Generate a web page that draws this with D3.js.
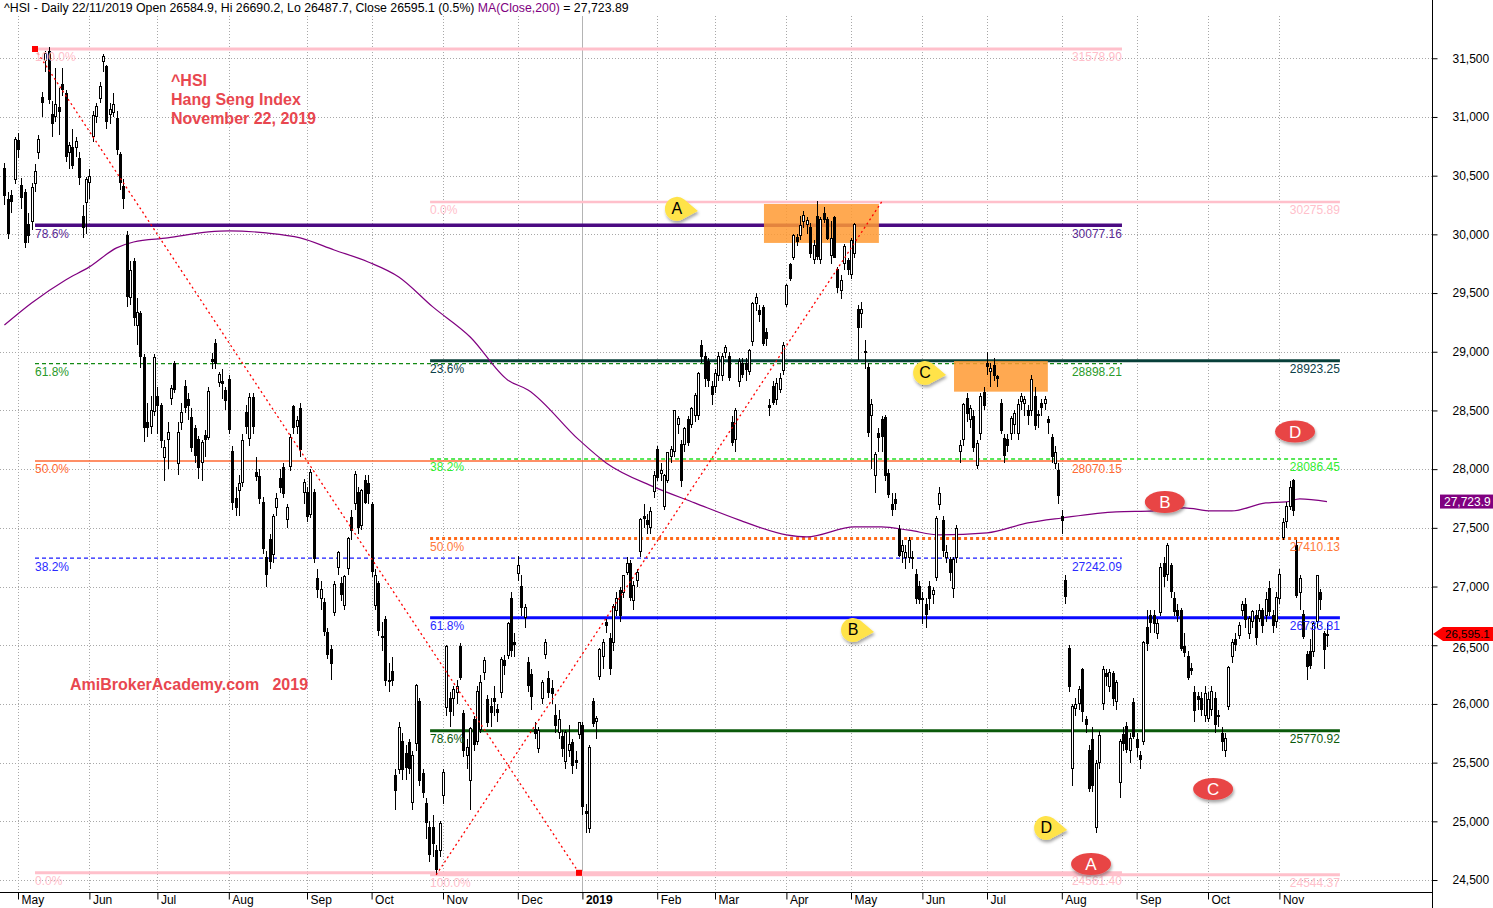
<!DOCTYPE html>
<html><head><meta charset="utf-8">
<script src="https://cdn.jsdelivr.net/npm/d3@7"></script>
<style>
html,body{margin:0;padding:0;background:#fff;}
svg{display:block;font-family:"Liberation Sans",Arial,sans-serif;}
</style></head><body>
<svg id="c" width="1493" height="908"></svg>
<script>
// ---------------- DATA ----------------
const monthLabels = ["Apr","May","Jun","Jul","Aug","Sep","Oct","Nov","Dec","2019","Feb","Mar","Apr","May","Jun","Jul","Aug","Sep","Oct","Nov"];
const monthBars   = [4,21,20,21,23,19,21,22,19,22,17,21,19,21,19,22,22,21,21,15];
const priceTicks  = [24500,25000,25500,26000,26500,27000,27500,28000,28500,29000,29500,30000,30500,31000,31500];

// daily candles [open, high, low, close], 25 Apr 2018 .. 22 Nov 2019
const ohlc = [
[30560,30610,30250,30328],[30300,30360,29960,30007],[30330,30380,30180,30281],[30470,30830,30430,30808],
[30800,30860,30650,30723],[30420,30480,30220,30313],[30360,30390,29880,29927],[30080,30180,29930,29994],[30110,30440,30040,30402],
[30430,30600,30360,30536],[30700,30850,30640,30809],[31170,31210,31000,31122],[31480,31560,31380,31541],[31560,31593,31110,31152],
[31020,31140,30830,30943],[31000,31420,30960,31110],[31080,31250,30850,31048],[31280,31420,31180,31234],[31200,31230,30620,30665],
[30700,30790,30560,30760],[30740,30900,30560,30588],[30740,30830,30660,30793],[30650,30700,30420,30484],[30150,30250,29970,30056],
[30270,30490,30000,30469],
[30440,30560,30300,30492],[30830,31050,30790,31010],[31000,31120,30950,31093],[31160,31300,31120,31259],[31470,31540,31380,31512],
[31430,31440,30900,30958],[31020,31120,30940,31063],[31040,31200,31000,31103],[30990,31050,30680,30725],[30680,30700,30380,30440],
[30410,30470,30220,30309],[29990,30030,29380,29468],[29460,29770,29400,29696],[29770,29800,29220,29296],[29220,29460,29060,29338],
[29330,29350,28860,28961],[28950,28980,28230,28356],[28400,28560,28270,28357],[28360,28620,28300,28497],[28490,28980,28450,28955],
[28620,28700,28300,28545],[28540,28560,28180,28241],[28100,28250,27900,28182],[28250,28400,28000,28316],[28600,28720,28550,28688],
[28900,28920,28650,28682],[28050,28400,27950,28311],[28400,28560,28330,28481],[28700,28760,28480,28525],[28590,28650,28420,28539],
[28440,28520,28150,28181],[28350,28380,28050,28118],[28250,28280,27920,28010],[28060,28250,27900,28224],[28290,28330,28100,28256],
[28270,28700,28250,28662],[28930,28990,28850,28920],[29070,29110,28850,28900],[28740,28830,28700,28804],[28750,28850,28600,28733],
[28670,28700,28500,28583],
[28760,28800,28300,28340],[28150,28200,27650,27714],[27750,27850,27600,27677],[27820,27950,27600,27880],[27890,28300,27850,28248],
[28480,28550,28300,28360],[28260,28650,28200,28607],[28610,28650,28300,28367],[27970,28100,27900,27937],[27940,28000,27700,27752],
[27720,27760,27280,27323],[27250,27300,27000,27100],[27400,27450,27150,27213],[27270,27620,27200,27599],[27670,27800,27600,27752],
[27920,28000,27800,27840],[28010,28050,27750,27790],[27570,27700,27500,27672],[28020,28300,27980,28271],[28530,28550,28300,28351],
[28360,28450,28300,28416],[28520,28560,28100,28165],[27800,27920,27700,27889],
[27800,27850,27550,27600],[27610,28000,27580,27973],[27800,27830,27200,27243],[27070,27150,26900,26974],[26900,27050,26800,26973],
[26860,26900,26580,26613],[26610,26650,26380,26422],[26460,26500,26200,26345],[26780,27050,26750,27014],[27160,27300,27100,27286],
[27030,27080,26880,26932],[26840,27100,26800,27084],[27150,27420,27100,27407],[27590,27650,27400,27477],[27710,27980,27650,27953],
[27800,27850,27450,27500],[27520,27830,27480,27816],[27900,27950,27700,27715],[27880,27950,27700,27789],
[27700,27720,27080,27126],[26840,27150,26800,27091],[27030,27050,26580,26623],[26570,26700,26450,26572],[26720,26750,26150,26202],
[26200,26350,26100,26193],[26280,26400,26150,26200],[25390,25450,25100,25266],[25440,25850,25400,25801],[25680,25750,25350,25445],
[25580,25650,25350,25462],[25670,25700,25400,25454],[25160,25600,25100,25561],[25660,26170,25600,26153],[26020,26050,25300,25346],
[25410,25450,25200,25249],[25150,25200,24850,24994],[24950,25000,24650,24718],[24950,25050,24700,24812],[24750,24800,24540,24586],
[24750,25000,24700,24980],
[25220,25450,25150,25416],[25970,26500,25900,26486],[26050,26100,25800,25935],[26050,26150,25900,26120],[26100,26200,26000,26147],
[26490,26520,26200,26227],[25920,25950,25550,25601],[25560,25700,25450,25633],[25350,25800,25100,25792],[25870,25900,25600,25655],
[25680,26150,25650,26103],[25780,26250,25750,26184],[26270,26400,26200,26373],[26040,26080,25800,25843],[25980,26050,25800,25928],
[26050,26150,25900,26019],[25950,26000,25850,25928],[26100,26400,26050,26376],[26370,26420,26250,26331],[26410,26700,26380,26682],
[26900,26950,26400,26451],[26520,26600,26400,26506],
[27110,27260,27050,27182],[27000,27100,26750,26819],[26740,26850,26650,26820],[26350,26400,26100,26156],[26250,26300,25950,26063],
[25780,25850,25700,25752],[25620,25800,25580,25771],[26050,26200,26000,26186],[26420,26550,26380,26524],[26220,26280,26050,26094],
[26130,26200,26000,26087],[25900,26000,25750,25814],[25760,25950,25700,25865],[25720,25780,25550,25623],[25510,25780,25450,25753],
[25600,25820,25550,25651],[25670,25700,25400,25478],[25520,25600,25450,25504],[25740,25850,25700,25845],
[25820,25850,25050,25130],[25080,25150,24900,25064],[24940,25650,24900,25626],[26020,26050,25800,25835],[25850,25900,25700,25875],
[26230,26480,26200,26462],[26400,26550,26300,26521],[26690,26720,26600,26667],[26560,26600,26250,26298],[26520,26850,26450,26830],
[26800,26950,26750,26902],[26970,27000,26700,26755],[26950,27100,26900,27090],[27120,27250,27100,27196],[27200,27230,26880,26910],
[26880,27050,26800,27008],[27050,27150,27000,27120],[27300,27580,27250,27569],[27600,27700,27500,27576],[27560,27620,27450,27531],
[27500,27680,27450,27642],[27810,27980,27750,27942],
[28170,28200,27900,27930],[27960,28050,27900,27990],[27680,27960,27650,27946],[27900,28150,27880,28143],[28110,28200,28050,28171],
[28150,28500,28100,28497],[28380,28450,28300,28432],[28210,28250,27850,27901],[28210,28360,28150,28347],[28420,28450,28200,28228],
[28380,28530,28350,28514],[28460,28650,28400,28629],[28460,28830,28420,28816],[29050,29100,28900,28959],[28960,29000,28700,28772],
[28920,28950,28700,28757],[28700,28750,28550,28633],
[28700,28850,28650,28812],[28800,29000,28750,28959],[28800,28990,28750,28961],[28990,29060,28950,29037],[28960,29000,28750,28779],
[28400,28450,28200,28228],[28250,28520,28150,28503],[28750,28950,28700,28920],[28900,28950,28780,28807],[28900,28950,28750,28851],
[28830,29020,28800,29012],[29090,29420,29050,29409],[29410,29500,29350,29466],[29350,29400,29250,29321],[29380,29400,29050,29071],
[29160,29200,29050,29113],[28540,28600,28450,28523],[28700,28750,28550,28567],[28590,28780,28550,28729],[28680,28820,28650,28775],
[28840,29080,28800,29051],
[29400,29580,29380,29562],[29740,29760,29600,29625],[29800,30000,29780,29987],[29970,30000,29900,29936],[29990,30160,29950,30077],
[30110,30200,30050,30157],[30080,30150,30000,30119],[30060,30100,29800,29839],[29790,29950,29750,29909],[30150,30280,29780,29812],
[29790,30150,29750,30129],[30180,30230,30100,30124],[30130,30150,29950,29963],[29820,30110,29750,29963],[30140,30160,29800,29805],
[29700,29720,29500,29549],[29520,29650,29450,29605],[29750,29920,29700,29893],[29780,29800,29650,29699],
[29660,29970,29620,29944],[29840,30100,29800,30081],[29360,29400,28930,29210],[29330,29420,29200,29363],[29000,29100,28850,29003],
[28870,28900,28270,28311],[28460,28600,28000,28550],[27950,28150,27800,28122],[28300,28350,28150,28268],[28420,28450,28150,28275],
[28440,28460,27900,27946],[27960,28000,27750,27787],[27700,27800,27600,27657],[27740,27800,27650,27705],[27490,27520,27250,27267],
[27300,27400,27200,27353],[27250,27350,27150,27288],[27250,27420,27200,27390],[27250,27300,27150,27235],[27100,27150,26850,26901],
[27000,27050,26850,26893],
[26900,26950,26680,26894],[26850,26900,26650,26762],[27000,27050,26800,26895],[26930,27000,26850,26965],[27080,27600,27050,27578],
[27700,27850,27650,27789],[27560,27600,27250,27308],[27250,27350,27200,27294],[27230,27250,27050,27118],[26980,27250,26900,27227],
[27250,27520,27200,27498],[28150,28250,28050,28202],[28250,28560,28200,28550],[28600,28650,28400,28473],[28420,28550,28350,28513],
[28450,28500,28150,28185],[28030,28250,28000,28221],[28300,28650,28250,28621],[28650,28700,28500,28543],
[28900,29000,28800,28875],[28830,28900,28700,28855],[28880,28950,28750,28796],[28790,28800,28700,28775],[28560,28600,28300,28331],
[28260,28300,28050,28116],[28250,28300,28150,28204],[28300,28450,28250,28431],[28380,28500,28300,28472],[28300,28600,28250,28554],
[28580,28650,28500,28619],[28560,28620,28450,28593],[28500,28550,28380,28461],[28500,28800,28450,28765],[28620,28700,28330,28371],
[28460,28500,28350,28467],[28560,28600,28450,28524],[28560,28620,28500,28594],[28420,28450,28300,28397],[28270,28300,28050,28107],
[28050,28200,28000,28146],[27990,28050,27700,27778],
[27600,27650,27450,27565],[27050,27100,26850,26919],[26470,26500,26100,26151],[25450,26000,25300,25976],[25960,26050,25900,25997],
[26000,26150,25950,26120],[26290,26310,25850,25939],[25870,25900,25750,25825],[25600,25650,25250,25281],[25700,25800,25250,25302],
[24950,25520,24899,25495],[25500,25770,25450,25734],[26000,26320,25950,26291],[26260,26300,26150,26231],[26150,26300,26100,26270],
[26260,26280,25980,26048],[26020,26200,25950,26179],[25330,25700,25200,25680],[25740,25800,25600,25664],[25810,25850,25580,25615],
[25600,25750,25500,25703],[26010,26050,25700,25725],
[25700,25750,25550,25627],[25560,25600,25450,25527],[25680,26540,25650,26523],[26650,26800,26450,26515],[26750,26800,26600,26691],
[26750,26800,26600,26681],[26600,26720,26550,26683],[26780,27200,26750,27159],[27200,27250,27000,27087],[27100,27370,27050,27353],
[27180,27200,26900,26954],[26900,26950,26750,26790],[26800,26850,26700,26754],[26800,26820,26450,26468],[26490,26600,26400,26435],
[26400,26450,26200,26222],[26300,26350,26250,26281],[26100,26150,25850,25945],[26060,26100,25950,26041],[26050,26100,25900,25955],
[25900,26150,25850,26092],
[25880,26100,25850,26042],[25950,26150,25900,26110],[26050,26100,25750,25821],[25900,25950,25800,25893],[25750,25800,25600,25682],
[25600,25750,25550,25707],[25980,26320,25950,26308],[26400,26550,26350,26521],[26550,26600,26450,26503],[26580,26700,26550,26664],
[26800,26880,26750,26848],[26850,26900,26650,26719],[26600,26750,26550,26725],[26700,26800,26650,26786],[26750,26800,26500,26566],
[26730,26850,26700,26797],[26800,26820,26600,26667],[26750,26950,26700,26891],[26980,27050,26750,26786],[26750,26800,26600,26667],
[26700,26950,26650,26906],
[26900,27150,26850,27100],[27420,27580,27400,27547],[27550,27720,27500,27683],[27680,27900,27650,27847],[27900,27920,27600,27651],
[27350,27400,26900,26926],[26950,27100,26800,27065],[26760,26800,26550,26571],[26420,26450,26200,26323],[26450,26550,26300,26327],
[26450,26700,26400,26681],[26700,27100,26650,27093],[26950,26980,26800,26889],[26600,26620,26300,26466],[26584.9,26690.2,26487.7,26595.1]
];

// 200-day moving average, read at sampled bars [bar, value]
const ma200 = [[0,29228],[8,29416],[18,29612],[25,29723],[33,29885],[38,29935],[48,29970],[60,30021],[66,30030],[77,30012],
[87,29970],[97,29867],[107,29765],[116,29637],[126,29382],[137,29126],[148,28760],[154,28675],[169,28249],[177,28053],
[191,27849],[203,27713],[216,27568],[230,27440],[236,27423],[250,27508],[258,27508],[266,27480],[275,27440],[289,27457],
[301,27542],[311,27584],[327,27636],[338,27644],[347,27670],[355,27644],[361,27644],[371,27712],[377,27721],[381,27746],[389,27724]];

// Fibonacci retracements
const fib1Labels = ["100.0%","78.6%","61.8%","50.0%","38.2%","0.0%"];
const fib1Values = [31578.90,30077.16,28898.21,28070.15,27242.09,24561.40];
const fib1Span   = [9, 328.7];
const fib2Labels = ["0.0%","23.6%","38.2%","50.0%","61.8%","78.6%","100.0%"];
const fib2Values = [30275.89,28923.25,28086.45,27410.13,26733.81,25770.92,24544.37];
const fib2Span   = [125.2, 392.8];
const trend1 = [[9,31578.90],[169,24561.40]];
const trend2 = [[127,24544.37],[258,30275.89]];

// highlighted zones [bar0, bar1, valueTop, valueBottom]
const zones = [[223.4,257.2,30259,29927],[279.3,306.9,28921,28660]];
// yellow tags [letter, bar, value] and red tags
const yellowTags = [["A",197.8,30217],["C",270.8,28820],["B",249.6,26630],["D",306.4,24944]];
const redTags    = [["D",379.6,28320],["B",341.3,27720],["C",355.5,25275],["A",319.6,24637]];

const lastClose = 26595.1, lastMA = 27723.89;

// ---------------- DRAW ----------------
(function(){
const svg = d3.select("#c");
const W = 1493, H = 908, axisX = 1432, axisY = 892, plotTop = 16;
const x = d3.scaleLinear().domain([0, 389]).range([4.4, 4.4 + 389*3.4]);
const y = d3.scaleLinear().domain([24398, 31860]).range([892, 16]);
const font = '"Liberation Sans", Arial, sans-serif';

const defs = svg.append("defs");
const f = defs.append("filter").attr("id","sh").attr("x","-30%").attr("y","-30%").attr("width","160%").attr("height","170%");
f.append("feDropShadow").attr("dx",1).attr("dy",2.5).attr("stdDeviation",1.6).attr("flood-color","#000").attr("flood-opacity",0.35);

// month starts
const starts = []; let acc = 0;
monthBars.forEach((n)=>{ starts.push(acc); acc += n; });
const tickIdx = starts.slice(1), tickLab = monthLabels.slice(1);

// grid
const grid = svg.append("g").attr("shape-rendering","crispEdges");
grid.selectAll("line.h").data(priceTicks).join("line").attr("class","h")
  .attr("x1",0).attr("x2",axisX).attr("y1",d=>Math.round(y(d))+0.5).attr("y2",d=>Math.round(y(d))+0.5)
  .attr("stroke","#a8a8a8").attr("stroke-dasharray","1,2");
grid.selectAll("line.v").data(tickIdx).join("line").attr("class","v")
  .attr("x1",d=>Math.round(x(d))+0.5).attr("x2",d=>Math.round(x(d))+0.5).attr("y1",plotTop).attr("y2",axisY)
  .attr("stroke",(d,i)=>tickLab[i]==="2019"?"#b4b4b4":"#a8a8a8")
  .attr("stroke-dasharray",(d,i)=>tickLab[i]==="2019"?null:"1,2");

// fib styles
const fib1Style = [
 {c:"#ffc0cb",w:3,d:null,t:"#ffc0cb"},
 {c:"#4b0a82",w:3.5,d:null,t:"#5a2a94"},
 {c:"#138a13",w:1.3,d:"4,3",t:"#2a9a2a"},
 {c:"#ff6a33",w:1.5,d:null,t:"#ff6a33"},
 {c:"#1a1aff",w:1.3,d:"4,3",t:"#2a2aff"},
 {c:"#ffc0cb",w:3,d:null,t:"#ffc0cb"}];
const fib2Style = [
 {c:"#ffc0cb",w:2.5,d:null,t:"#ffc0cb"},
 {c:"#08403a",w:3,d:null,t:"#0b4048"},
 {c:"#22e022",w:1.3,d:"4,3",t:"#33ee33"},
 {c:"#ff6a1a",w:3,d:"3,3",t:"#ff7a3a"},
 {c:"#0a0aff",w:3,d:null,t:"#2a2aff"},
 {c:"#0a5a0a",w:3,d:null,t:"#0a5a0a"},
 {c:"#ffc0cb",w:3,d:null,t:"#ffc0cb"}];

function drawFib(values, span, styles){
  const g = svg.append("g");
  g.selectAll("line").data(values).join("line")
    .attr("x1",x(span[0])).attr("x2",x(span[1])).attr("y1",d=>y(d)).attr("y2",d=>y(d))
    .attr("stroke",(d,i)=>styles[i].c).attr("stroke-width",(d,i)=>styles[i].w)
    .attr("stroke-dasharray",(d,i)=>styles[i].d);
}
function drawFibText(labels, values, span, styles){
  const g = svg.append("g").attr("font-size",12).attr("font-family",font);
  values.forEach((v,i)=>{
    const s = styles[i];
    g.append("text").attr("x",x(span[0])).attr("y",y(v)+12.5).attr("fill",s.t).text(labels[i]);
    g.append("text").attr("x",x(span[1])).attr("y",y(v)+12.5).attr("fill",s.t).attr("text-anchor","end").text(v.toFixed(2));
  });
}
drawFib(fib1Values,fib1Span,fib1Style);
drawFib(fib2Values,fib2Span,fib2Style);

// MA line
svg.append("path").datum(ma200)
  .attr("d", d3.line().x(d=>x(d[0])).y(d=>y(d[1])).curve(d3.curveMonotoneX))
  .attr("fill","none").attr("stroke","#800080").attr("stroke-width",1.2);

// zones
svg.append("g").selectAll("rect").data(zones).join("rect")
  .attr("x",d=>x(d[0])).attr("width",d=>x(d[1])-x(d[0]))
  .attr("y",d=>y(d[2])).attr("height",d=>y(d[3])-y(d[2]))
  .attr("fill","#ff9a33").attr("opacity",0.85);

// candles
const cg = svg.append("g").attr("shape-rendering","crispEdges");
cg.selectAll("line").data(ohlc).join("line")
  .attr("x1",(d,i)=>Math.round(x(i))+0.5).attr("x2",(d,i)=>Math.round(x(i))+0.5)
  .attr("y1",d=>y(d[1])).attr("y2",d=>y(d[2])).attr("stroke","#000").attr("stroke-width",1);
cg.selectAll("rect").data(ohlc).join("rect")
  .attr("x",(d,i)=>Math.round(x(i))-0.5).attr("width",2)
  .attr("y",d=>y(Math.max(d[0],d[3])))
  .attr("height",d=>Math.max(1, y(Math.min(d[0],d[3]))-y(Math.max(d[0],d[3]))))
  .attr("fill",d=>d[3]>=d[0]?"#fff":"#000").attr("stroke","#000").attr("stroke-width",1);

// trend lines
[trend1,trend2].forEach(t=>{
  svg.append("line").attr("x1",x(t[0][0])).attr("y1",y(t[0][1])).attr("x2",x(t[1][0])).attr("y2",y(t[1][1]))
    .attr("stroke","#ff0000").attr("stroke-width",1.3).attr("stroke-dasharray","2,3");
});
svg.append("g").selectAll("rect").data([trend1[0],trend1[1]]).join("rect")
  .attr("x",d=>x(d[0])-3).attr("y",d=>y(d[1])-3).attr("width",6).attr("height",6).attr("fill","#ff0000");

// fib labels
drawFibText(fib1Labels,fib1Values,fib1Span,fib1Style);
drawFibText(fib2Labels,fib2Values,fib2Span,fib2Style);

// yellow tags
const yg = svg.append("g");
yellowTags.forEach(t=>{
  const cx = x(t[1]), cy = y(t[2]), r = 12;
  const a = 52*Math.PI/180;
  const p = `M${cx+21},${cy+2} L${cx+r*Math.cos(a)},${cy-r*Math.sin(a)} A${r},${r} 0 1 0 ${cx+r*Math.cos(a)},${cy+r*Math.sin(a)} Z`;
  yg.append("path").attr("d",p).attr("fill","#ffe34a").attr("filter","url(#sh)");
  yg.append("text").attr("x",cx).attr("y",cy+5.5).attr("text-anchor","middle").attr("font-size",16)
    .attr("font-family",font).attr("fill","#000").text(t[0]);
});
// red tags
const rg = svg.append("g");
redTags.forEach(t=>{
  const cx = x(t[1]), cy = y(t[2]);
  rg.append("ellipse").attr("cx",cx).attr("cy",cy).attr("rx",20).attr("ry",11).attr("fill","#e84545").attr("filter","url(#sh)");
  rg.append("text").attr("x",cx).attr("y",cy+6).attr("text-anchor","middle").attr("font-size",17)
    .attr("font-family",font).attr("fill","#fff").text(t[0]);
});

// annotations
const ann = svg.append("g").attr("font-family",font).attr("font-weight","bold").attr("font-size",16).attr("fill","#e8474f");
["^HSI","Hang Seng Index","November 22, 2019"].forEach((s,i)=>{
  ann.append("text").attr("x",171).attr("y",85.5+i*19).text(s);
});
ann.append("text").attr("x",70).attr("y",690).style("white-space","pre").text("AmiBrokerAcademy.com   2019");

// header
const hd = svg.append("text").attr("x",4).attr("y",12).attr("font-size",12.3).attr("font-family",font).attr("fill","#000");
hd.append("tspan").text("^HSI - Daily 22/11/2019 Open 26584.9, Hi 26690.2, Lo 26487.7, Close 26595.1 (0.5%) ");
hd.append("tspan").attr("fill","#800080").text("MA(Close,200)");
hd.append("tspan").text(" = " + d3.format(",.2f")(lastMA));

// axes
const ax = svg.append("g").attr("shape-rendering","crispEdges");
ax.append("line").attr("x1",axisX+0.5).attr("x2",axisX+0.5).attr("y1",0).attr("y2",H).attr("stroke","#000");
ax.append("line").attr("x1",0).attr("x2",axisX).attr("y1",axisY+0.5).attr("y2",axisY+0.5).attr("stroke","#000").attr("stroke-width",1.5);

const yAxis = svg.append("g").attr("transform",`translate(${axisX+0.5},0)`)
  .call(d3.axisRight(y).tickValues(priceTicks).tickSize(5).tickPadding(15).tickFormat(d3.format(",")));
yAxis.select(".domain").remove();
yAxis.selectAll("text").attr("font-size",12).attr("font-family",font).attr("fill","#000")
  .attr("dy",d=>d===26500?"0.55em":"0.32em");
yAxis.selectAll("line").attr("stroke","#000");

const xAxis = svg.append("g").attr("transform",`translate(0,${axisY+0.5})`)
  .call(d3.axisBottom(x).tickValues(tickIdx).tickSize(7).tickFormat((d,i)=>tickLab[i]));
xAxis.select(".domain").remove();
xAxis.selectAll("line").attr("stroke","#000");
xAxis.selectAll("text").attr("text-anchor","start").attr("x",3).attr("y",3).attr("dy","0.71em")
  .attr("font-size",12).attr("font-family",font).attr("fill","#000")
  .attr("font-weight",(d,i)=>tickLab[i]==="2019"?"bold":null);

// last value markers
const ym = y(lastMA);
svg.append("rect").attr("x",1440).attr("y",ym-7).attr("width",53).attr("height",14).attr("fill","#800080");
svg.append("text").attr("x",1444).attr("y",ym+4.5).attr("font-size",12).attr("font-family",font).attr("fill","#fff").text(d3.format(",.1f")(lastMA));
const yc = y(lastClose);
svg.append("path").attr("d",`M${axisX+1},${yc} L${1443},${yc-7} L${W},${yc-7} L${W},${yc+7} L${1443},${yc+7} Z`).attr("fill","#ff0000");
svg.append("text").attr("x",1445).attr("y",yc+4).attr("font-size",11.5).attr("font-family",font).attr("fill","#000").text(d3.format(",.1f")(lastClose));
})();
</script>
</body></html>
